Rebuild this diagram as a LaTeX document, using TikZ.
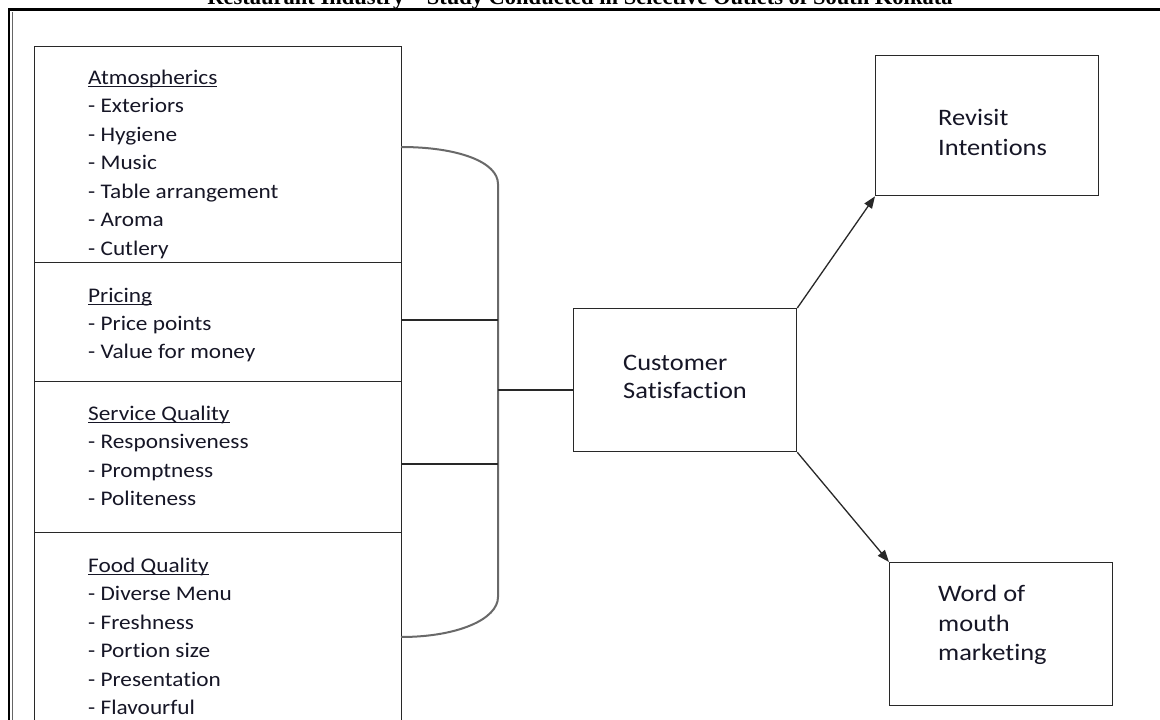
\documentclass[tikz,border=0pt]{standalone}
\usepackage{fontspec}
\setmainfont{Carlito}[FakeStretch=1.12, Ligatures=NoCommon]
\newfontfamily\titlefont{Liberation Serif}
\usetikzlibrary{arrows.meta}
\definecolor{linec}{RGB}{40,40,40}
\definecolor{brc}{RGB}{105,105,105}
\definecolor{txtc}{RGB}{22,22,38}
\newcommand\uln[1]{{\setbox0\hbox{#1}\rlap{\vrule height -1.6pt depth 2.9pt width \wd0}\box0}}
\tikzset{
  secbox/.style={draw=linec, line width=1.3pt, inner sep=0pt, minimum width=367pt, anchor=north west},
  rbox/.style={draw=linec, line width=1.3pt, inner sep=0pt, anchor=north west},
  item/.style={anchor=base west, inner sep=0pt, text=txtc, font=\fontsize{20.8}{28.5}\selectfont},
  ritem/.style={anchor=base west, inner sep=0pt, text=txtc, font=\fontsize{23.6}{28}\selectfont},
  brk/.style={draw=brc, line width=2pt},
  tie/.style={draw=linec, line width=1.3pt},
  arr/.style={draw=linec, line width=1.3pt, -{Triangle[length=12pt,width=9pt]}},
}
\begin{document}
\begin{tikzpicture}[x=1pt,y=-1pt]
\clip (0,0) rectangle (1160,720);
\fill[white] (0,0) rectangle (1160,720);
% title (cut at the top, as in the reference)
\node[anchor=base, inner sep=0pt, font=\titlefont\bfseries\fontsize{22.5}{22.5}\selectfont] (title) at (580,5) {Restaurant Industry – Study Conducted in Selective Outlets of South Kolkata};
% frame
\draw[line width=2.2pt, black] (9,760) -- (9,9.4) -- (1200,9.4);
\draw[line width=1pt, black!60] (12.6,760) -- (12.6,12);
% left sections
\node[secbox, minimum height=216pt] (atm) at (34,46) {};
\node[secbox, minimum height=119pt] (pri) at (34,262) {};
\node[secbox, minimum height=151pt] (ser) at (34,381) {};
\node[secbox, minimum height=240pt] (foo) at (34,532) {};
% texts
\node[item] (atmh) at (88,84) {\uln{Atmospherics}};
\foreach \t [count=\i from 1] in {Exteriors, Hygiene, Music, Table arrangement, Aroma, Cutlery}
  \node[item] (atm\i) at (88,{84+28.5*\i}) {- \t};
\node[item] (prih) at (88,302) {\uln{Pricing}};
\foreach \t [count=\i from 1] in {Price points, Value for money}
  \node[item] (pri\i) at (88,{302+28.3*\i}) {- \t};
\node[item] (serh) at (88,420) {\uln{Service Quality}};
\foreach \t [count=\i from 1] in {Responsiveness, Promptness, Politeness}
  \node[item] (ser\i) at (88,{420+28.5*\i}) {- \t};
\node[item] (fooh) at (88,572) {\uln{Food Quality}};
\foreach \t [count=\i from 1] in {Diverse Menu, Freshness, Portion size, Presentation, Flavourful}
  \node[item] (foo\i) at (88,{572+28.5*\i}) {- \t};
% bracket
\coordinate (b1) at (401,147);
\coordinate (b2) at (498,184);
\coordinate (b3) at (498,597);
\coordinate (b4) at (401,637);
\draw[brk] (b1) .. controls (458,147) and (498,162) .. (b2) -- (b3) .. controls (498,619) and (458,637) .. (b4);
\coordinate (t1) at (498,320);
\coordinate (t2) at (498,464);
\coordinate (jn) at (498,390);
\draw[tie] (t1 -| pri.east) -- (t1);
\draw[tie] (t2 -| ser.east) -- (t2);
% right boxes
\node[rbox, minimum width=223pt, minimum height=143pt] (cs) at (573,308) {};
\node[ritem] (cs1) at (623,370) {Customer};
\node[ritem] (cs2) at (623,398) {Satisfaction};
\node[rbox, minimum width=223pt, minimum height=140pt] (rev) at (875,55) {};
\node[ritem] (rev1) at (938,125) {Revisit};
\node[ritem] (rev2) at (938,155) {Intentions};
\node[rbox, minimum width=223pt, minimum height=143pt] (wom) at (889,562) {};
\node[ritem] (wom1) at (938,601) {Word of};
\node[ritem] (wom2) at (938,631) {mouth};
\node[ritem] (wom3) at (938,660) {marketing};
% connectors
\draw[tie] (jn) -- (jn -| cs.west);
\draw[arr] (cs.north east) -- (rev.south west);
\draw[arr] (cs.south east) -- (wom.north west);
\end{tikzpicture}
\end{document}
